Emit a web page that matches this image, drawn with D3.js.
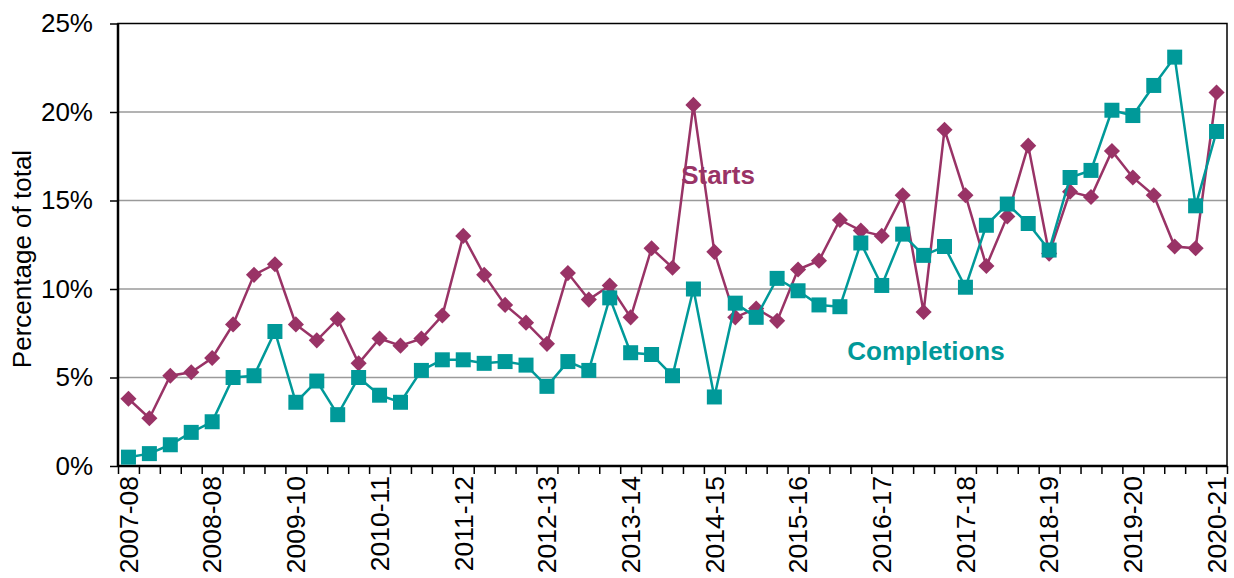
<!DOCTYPE html>
<html>
<head>
<meta charset="utf-8">
<script src="https://cdn.jsdelivr.net/npm/d3@7"></script>
<style>
  html, body { margin: 0; padding: 0; background: #fff; }
  svg { display: block; font-family: "Liberation Sans", Arial, sans-serif; }
</style>
</head>
<body>
<div id="chart"></div>
<script>
// Year labels shown under every fourth quarter (typo "2008-08" kept as in source)
const yearLabels = ['2007-08', '2008-08', '2009-10', '2010-11', '2011-12', '2012-13', '2013-14',
  '2014-15', '2015-16', '2016-17', '2017-18', '2018-19', '2019-20', '2020-21'];

// Quarterly share of total (%)
const starts = [3.8, 2.7, 5.1, 5.3, 6.1, 8.0, 10.8, 11.4, 8.0, 7.1, 8.3, 5.8, 7.2, 6.8, 7.2, 8.5,
  13.0, 10.8, 9.1, 8.1, 6.9, 10.9, 9.4, 10.2, 8.4, 12.3, 11.2, 20.4, 12.1, 8.4, 8.9, 8.2,
  11.1, 11.6, 13.9, 13.3, 13.0, 15.3, 8.7, 19.0, 15.3, 11.3, 14.1, 18.1, 12.0, 15.5, 15.2, 17.8,
  16.3, 15.3, 12.4, 12.3, 21.1];
const completions = [0.5, 0.7, 1.2, 1.9, 2.5, 5.0, 5.1, 7.6, 3.6, 4.8, 2.9, 5.0, 4.0, 3.6, 5.4, 6.0,
  6.0, 5.8, 5.9, 5.7, 4.5, 5.9, 5.4, 9.5, 6.4, 6.3, 5.1, 10.0, 3.9, 9.2, 8.4, 10.6,
  9.9, 9.1, 9.0, 12.6, 10.2, 13.1, 11.9, 12.4, 10.1, 13.6, 14.8, 13.7, 12.2, 16.3, 16.7, 20.1,
  19.8, 21.5, 23.1, 14.7, 18.9];
const yTicks = [0, 5, 10, 15, 20, 25];

// quarter keys: one per data point
const quarters = starts.map((d, i) => yearLabels[Math.floor(i / 4)].slice(0, 4) + 'Q' + (i % 4 + 1));

const width = 1234, height = 578;
const margin = {top: 23.5, right: 7, bottom: 112, left: 118};
const innerW = width - margin.left - margin.right;
const innerH = height - margin.top - margin.bottom;

const svg = d3.select('#chart').append('svg')
  .attr('width', width).attr('height', height);
const plot = svg.append('g').attr('transform', `translate(${margin.left},${margin.top})`);

const x = d3.scaleBand().domain(quarters).range([0, innerW]);
const xEdge = d3.scaleLinear().domain([0, quarters.length]).range([0, innerW]);
const y = d3.scaleLinear().domain([0, 25]).range([innerH, 0]);
const cx = d => x(d) + x.bandwidth() / 2;

// gridlines
plot.append('g').selectAll('line').data(yTicks.filter(t => t > 0 && t < 25)).join('line')
  .attr('x1', 0).attr('x2', innerW)
  .attr('y1', d => y(d)).attr('y2', d => y(d))
  .attr('stroke', '#9a9a9a').attr('stroke-width', 1.3);

// y axis
const yAxis = plot.append('g')
  .call(d3.axisLeft(y).tickValues(yTicks).tickSize(8).tickFormat(d => d + '%'));
yAxis.select('.domain').remove();
yAxis.selectAll('.tick line').attr('stroke', '#000').attr('stroke-width', 1.5);
yAxis.selectAll('.tick text').attr('x', -25).attr('font-size', 26).attr('fill', '#000');

// x axis: ticks at every quarter boundary
const xTicks = plot.append('g').attr('transform', `translate(0,${innerH})`)
  .call(d3.axisBottom(xEdge).tickValues(d3.range(quarters.length + 1)).tickSize(8).tickFormat(''));
xTicks.select('.domain').remove();
xTicks.selectAll('.tick line').attr('stroke', '#000').attr('stroke-width', 1.5);

// x labels on the first quarter of each year
const xLabels = plot.append('g').attr('transform', `translate(0,${innerH})`)
  .call(d3.axisBottom(x).tickValues(quarters.filter((d, i) => i % 4 === 0)).tickSize(0)
    .tickFormat(d => yearLabels[quarters.indexOf(d) / 4]));
xLabels.select('.domain').remove();
xLabels.selectAll('.tick text')
  .attr('transform', 'rotate(-90)')
  .attr('x', -10).attr('y', 0).attr('dy', '0.35em')
  .attr('text-anchor', 'end')
  .attr('font-size', 26.5).attr('fill', '#000');

// plot frame
plot.append('rect').attr('width', innerW).attr('height', innerH)
  .attr('fill', 'none').attr('stroke', '#000').attr('stroke-width', 1.5);
plot.append('line').attr('x1', 0).attr('x2', 0).attr('y1', 0).attr('y2', innerH)
  .attr('stroke', '#000').attr('stroke-width', 2.5);
plot.append('line').attr('x1', 0).attr('x2', innerW).attr('y1', innerH).attr('y2', innerH)
  .attr('stroke', '#000').attr('stroke-width', 2.5);

// y title
svg.append('text')
  .attr('transform', `translate(31,259) rotate(-90)`)
  .attr('text-anchor', 'middle').attr('font-size', 26).attr('fill', '#000')
  .text('Percentage of total');

const series = [
  {name: 'Starts', values: starts, color: '#993366', size: 130, rotate: 45},
  {name: 'Completions', values: completions, color: '#009999', size: 225, rotate: 0}
];

const line = d3.line().x((d, i) => cx(quarters[i])).y(d => y(d));

series.forEach(s => {
  const g = plot.append('g');
  g.append('path').datum(s.values)
    .attr('d', line).attr('fill', 'none')
    .attr('stroke', s.color).attr('stroke-width', 2.5);
  g.selectAll('path.marker').data(s.values).join('path')
    .attr('class', 'marker')
    .attr('transform', (d, i) => `translate(${cx(quarters[i])},${y(d)}) rotate(${s.rotate})`)
    .attr('d', d3.symbol(d3.symbolSquare, s.size))
    .attr('fill', s.color);
});

// series labels
svg.append('text').attr('x', 718).attr('y', 184).attr('text-anchor', 'middle')
  .attr('font-size', 26).attr('font-weight', 'bold').attr('fill', '#993366').text('Starts');
svg.append('text').attr('x', 926).attr('y', 360).attr('text-anchor', 'middle')
  .attr('font-size', 26).attr('font-weight', 'bold').attr('fill', '#009999').text('Completions');
</script>
</body>
</html>
